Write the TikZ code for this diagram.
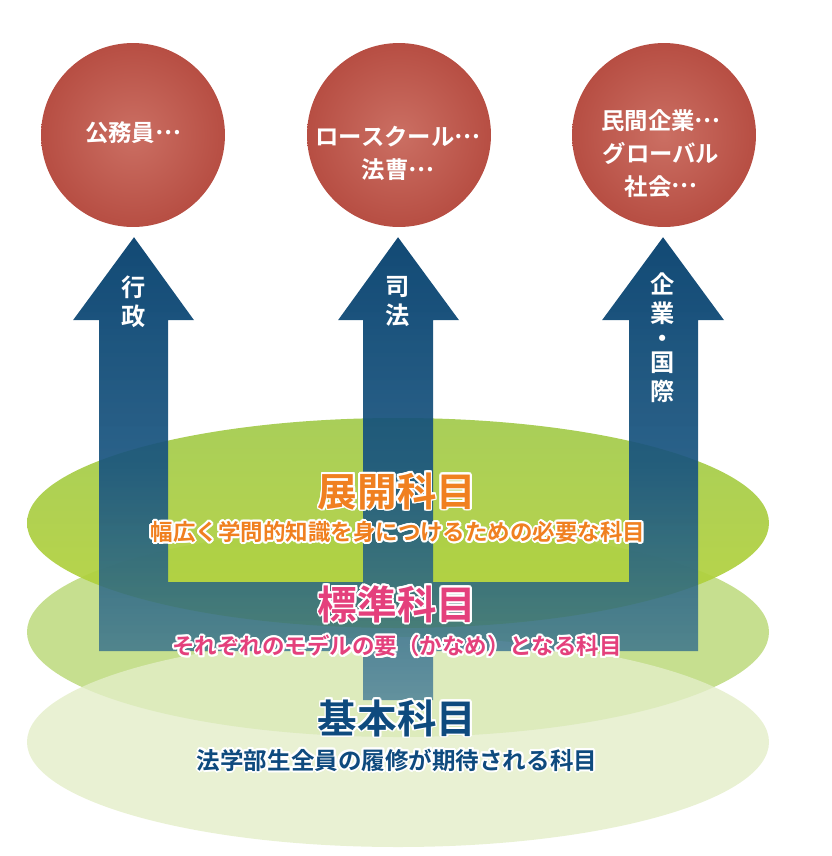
\documentclass[tikz,border=0pt]{standalone}
\usepackage{fontspec}
\newfontfamily\jpfont{Noto Sans CJK JP}[BoldFont={Noto Sans CJK JP Bold}]
\newcommand\jpdots{\raisebox{0.32em}{…}}
\usepackage[copies]{contour}
\contourlength{1.1pt}
\usetikzlibrary{fadings}

\definecolor{goalin}{HTML}{CB6F63}
\definecolor{goalout}{HTML}{A32D23}
\definecolor{arrowtop}{HTML}{08426F}
\definecolor{arrowbot}{HTML}{2A6890}
\definecolor{tenkaigreen}{HTML}{A3CA4C}
\definecolor{tenkailow}{HTML}{B4D33A}
\definecolor{hyojungreen}{HTML}{C6DF8F}
\definecolor{kihongreen}{HTML}{E3EEC8}
\definecolor{tenkaiink}{HTML}{F08020}
\definecolor{hyojunink}{HTML}{E4407C}
\definecolor{kihonink}{HTML}{0E4A7E}

\pgfdeclareradialshading{goalshade}{\pgfpoint{0bp}{0bp}}{color(0bp)=(goalin); color(50bp)=(goalout)}
\pgfdeclareverticalshading{arrowfadeshade}{100bp}{color(0bp)=(pgftransparent!50); color(25bp)=(pgftransparent!32); color(50bp)=(pgftransparent!8); color(100bp)=(pgftransparent!0)}
\pgfdeclarefading{arrowfade}{\pgfuseshading{arrowfadeshade}}

\tikzset{
  goal/.style={circle, minimum size=3.68cm, inner sep=0pt, shade, shading=goalshade},
  goaltext/.style={text=white, align=center, inner sep=0pt,
    font=\jpfont\bfseries\fontsize{13.3}{18.7}\selectfont},
  routetext/.style={text=white, align=center, inner sep=0pt,
    font=\jpfont\bfseries\fontsize{13.8}{16.5}\selectfont},
  layer/.style={x radius=371, y radius=105},
  layertitle/.style={inner sep=0pt, font=\jpfont\bfseries\fontsize{22.5}{26}\selectfont},
  layernote/.style={inner sep=0pt, font=\jpfont\bfseries\fontsize{12.8}{15}\selectfont}
}

\begin{document}
\begin{tikzpicture}[x=0.02cm, y=-0.02cm]
\useasboundingbox (0,0) rectangle (832,856);

% three layers of subjects
\fill[hyojungreen] (398,632) ellipse [layer];
\fill[kihongreen, fill opacity=0.8] (398,742) ellipse [layer];
\shade[top color=tenkaigreen, bottom color=tenkailow, opacity=0.93] (398,523) ellipse [layer];

% the three routes, one piece
\shade[top color=arrowtop, bottom color=arrowbot, path fading=arrowfade]
  (134,237) -- (194,320) -- (168,320) -- (168,582) -- (363,582) -- (363,320)
  -- (338,320) -- (398,237) -- (459,320) -- (433,320) -- (433,582) -- (629,582)
  -- (629,320) -- (602,320) -- (663,237) -- (724,320) -- (698,320) -- (698,651)
  -- (433,651) -- (433,700) -- (363,700) -- (363,651) -- (99,651) -- (99,320)
  -- (73,320) -- cycle;

\node[routetext] (gyosei) at (134,302) {行\\政};
\node[routetext] (shiho) at (398,302) {司\\法};
\node[routetext] (kigyo) at (663,338) {企\\業\\[-2.5pt]・\\[-2.5pt]国\\際};

% careers
\node[goal] (komuin) at (133,135) {};
\node[goal] (hoso) at (399,135) {};
\node[goal] (minkan) at (664,135) {};
\node[goaltext] (komuintext) at (133,133) {公務員\jpdots};
\node[goaltext] (hosotext) at (398,153.5) {ロースクール\jpdots\\法曹\jpdots};
\node[goaltext] (minkantext) at (661,153.5) {民間企業\jpdots\\グローバル\\社会\jpdots};

% layer captions
\node[layertitle, text=tenkaiink] (tenkai) at (397,492) {\contour{white}{展開科目}};
\node[layernote, text=tenkaiink] (tenkainote) at (398,533)
  {\contour{white}{幅広く学問的知識を身につけるための必要な科目}};
\node[layertitle, text=hyojunink] (hyojun) at (397,605) {\contour{white}{標準科目}};
\node[layernote, text=hyojunink] (hyojunnote) at (397,647)
  {\contour{white}{それぞれのモデルの要（かなめ）となる科目}};
\node[layertitle, text=kihonink] (kihon) at (397,719) {\contour{white}{基本科目}};
\node[layernote, text=kihonink, font=\jpfont\bfseries\fontsize{13.4}{15}\selectfont] (kihonnote) at (397,761)
  {\contour{white}{法学部生全員の履修が期待される科目}};
\end{tikzpicture}
\end{document}
